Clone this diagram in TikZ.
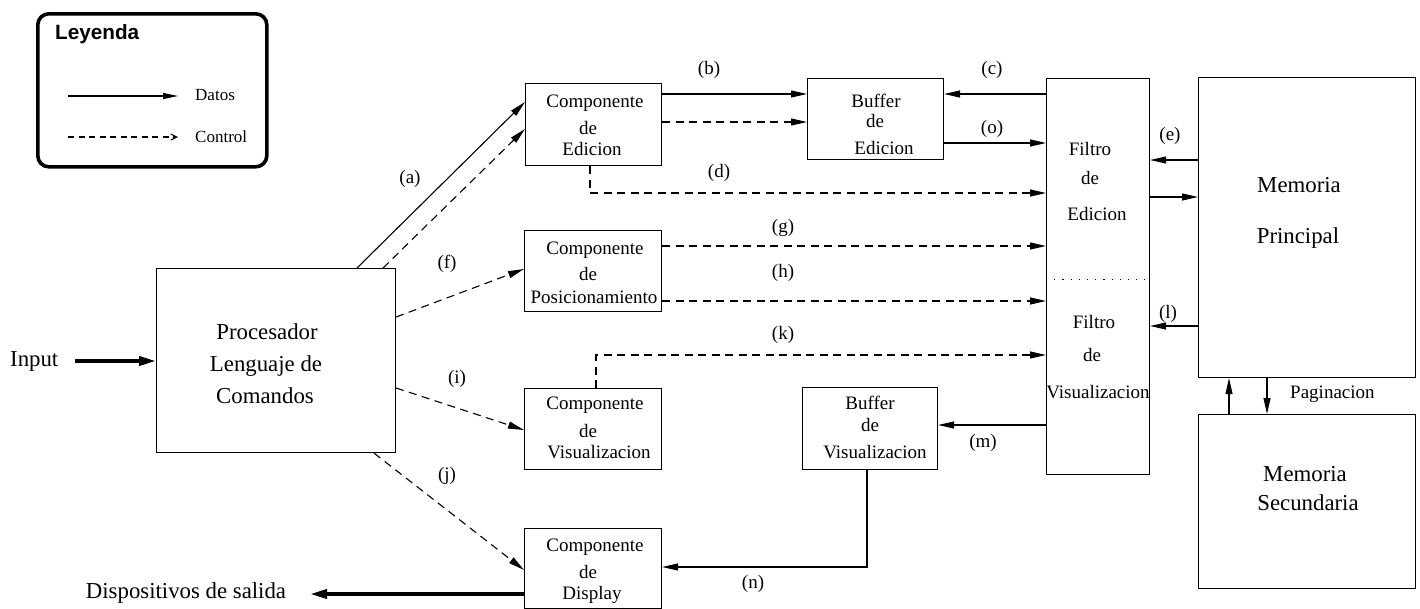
\documentclass[tikz,border=0pt]{standalone}
\usepackage{fontspec}
\setmainfont{Liberation Serif}
\newfontfamily\legfont{Liberation Sans}
\usetikzlibrary{arrows.meta}

\begin{document}
\begin{tikzpicture}[x=1pt,y=-1pt,
  box/.style={draw, line width=1.1pt, inner sep=0pt, anchor=north west},
  txt/.style={inner sep=0pt, anchor=base, font=\fontsize{19}{22}\selectfont},
  bigtxt/.style={inner sep=0pt, anchor=base, font=\fontsize{22.8}{26}\selectfont},
  lbl/.style={inner sep=0pt, anchor=base, font=\fontsize{19}{22}\selectfont},
  data/.style={line width=1.1pt, -{Triangle[length=16pt,width=7pt]}},
  ctrl/.style={line width=1.1pt, dash pattern=on 8pt off 5.5pt, -{Triangle[length=16pt,width=7pt]}},
  ctrlline/.style={line width=1.1pt, dash pattern=on 8pt off 5.5pt},
  io/.style={line width=3.6pt, -{Triangle[length=17pt,width=9pt]}},
]
\useasboundingbox (0,0) rectangle (1420,608);

% ---------- legend ----------
\node[box, line width=3.6pt, rounded corners=11pt, minimum width=229pt, minimum height=153pt] (leg) at (36,12) {};
\node[inner sep=0pt, anchor=base west, font=\legfont\bfseries\fontsize{20.7}{24}\selectfont] (legt) at (55,39) {Leyenda};
\coordinate (ld1) at (68,96);
\coordinate (ld2) at (178,96);
\coordinate (lc1) at (68,137);
\coordinate (lc2) at (178,137);
\draw[line width=1.1pt, -{Triangle[length=15pt,width=6pt]}] (ld1) -- (ld2);
\draw[line width=1.1pt, dash pattern=on 6pt off 4.5pt, -{Straight Barb[length=6pt,width=6pt]}] (lc1) -- (lc2);
\node[inner sep=0pt, anchor=base west, font=\fontsize{17}{20}\selectfont] (ldt) at (195,100) {Datos};
\node[inner sep=0pt, anchor=base west, font=\fontsize{17}{20}\selectfont] (lct) at (195,142) {Control};

% ---------- boxes ----------
\node[box, minimum width=239pt, minimum height=184pt] (pl) at (156,268) {};
\node[box, minimum width=136pt, minimum height=82pt] (ce) at (525,83) {};
\node[box, minimum width=137pt, minimum height=81pt] (cp) at (524,230) {};
\node[box, minimum width=137pt, minimum height=81pt] (cv) at (524,388) {};
\node[box, minimum width=137pt, minimum height=80pt] (cd) at (524,528) {};
\node[box, minimum width=136pt, minimum height=81pt] (be) at (807,78) {};
\node[box, minimum width=135pt, minimum height=82pt] (bv) at (802,387) {};
\node[box, minimum width=103pt, minimum height=396pt] (fil) at (1046,78) {};
\node[box, minimum width=217pt, minimum height=300pt] (mp) at (1198,77) {};
\node[box, minimum width=217pt, minimum height=174pt] (ms) at (1198,414) {};

% box texts
\node[bigtxt] (plt1) at (267,339) {Procesador};
\node[bigtxt] (plt2) at (266,371) {Lenguaje de};
\node[bigtxt] (plt3) at (265,403) {Comandos};

\node[txt] (cet1) at (595,107) {Componente};
\node[txt] (cet2) at (588,134) {de};
\node[txt] (cet3) at (592,155) {Edicion};

\node[txt] (cpt1) at (595,254) {Componente};
\node[txt] (cpt2) at (588,280) {de};
\node[txt] (cpt3) at (594,303) {Posicionamiento};

\node[txt] (cvt1) at (595,409) {Componente};
\node[txt] (cvt2) at (588,437) {de};
\node[txt] (cvt3) at (599,458) {Visualizacion};

\node[txt] (cdt1) at (595,551) {Componente};
\node[txt] (cdt2) at (588,578) {de};
\node[txt] (cdt3) at (592,599) {Display};

\node[txt] (bet1) at (876,107) {Buffer};
\node[txt] (bet2) at (875,127) {de};
\node[txt] (bet3) at (884,154) {Edicion};

\node[txt] (bvt1) at (870,409) {Buffer};
\node[txt] (bvt2) at (870,431) {de};
\node[txt] (bvt3) at (875,458) {Visualizacion};

\node[txt] (fet1) at (1090,155) {Filtro};
\node[txt] (fet2) at (1090,184) {de};
\node[txt] (fet3) at (1097,220) {Edicion};

\node[txt] (fvt1) at (1094,328) {Filtro};
\node[txt] (fvt2) at (1092,361) {de};
\node[txt] (fvt3) at (1098,398) {Visualizacion};

\node[bigtxt] (mpt1) at (1299,192) {Memoria};
\node[bigtxt] (mpt2) at (1298,243) {Principal};

\node[bigtxt] (mst1) at (1305,481) {Memoria};
\node[bigtxt] (mst2) at (1308,510) {Secundaria};

% filter split
\draw[line width=1pt, dash pattern=on 1.2pt off 7pt] (fil.west |- 0,279) -- (1145,279);

% ---------- input / output ----------
\node[bigtxt, anchor=base west] (inp) at (10,366) {Input};
\coordinate (inS) at (75,361);
\draw[io] (inS) -- (pl.west |- inS);

\node[bigtxt] (outt) at (186,598) {Dispositivos de salida};
\coordinate (outE) at (310,594);
\draw[io] (cd.west |- outE) -- (outE);

% ---------- command processor outputs ----------
\draw[data] (pl.north -| 357,0) -- (ce.west |- 0,102);
\draw[ctrl] (pl.north -| 383,0) -- (ce.west |- 0,129);
\node[lbl] (la) at (410,183) {(a)};

\draw[ctrl] (pl.east |- 0,317) -- (cp.west |- 0,269);
\node[lbl] (lf) at (447,268) {(f)};

\draw[ctrl] (pl.east |- 0,388) -- (cv.west |- 0,430);
\node[lbl] (li) at (457,383) {(i)};

\draw[ctrl] (pl.south -| 374,0) -- (cd.west |- 0,570);
\node[lbl] (lj) at (447,480) {(j)};

% ---------- edition path ----------
\draw[data] (ce.east |- 0,94) -- (be.west |- 0,94);
\draw[ctrl] (ce.east |- 0,122) -- (be.west |- 0,122);
\node[lbl] (lb) at (709,74) {(b)};

\draw[data] (fil.west |- 0,94) -- (be.east |- 0,94);
\node[lbl] (lc) at (992,74) {(c)};

\draw[data] (be.east |- 0,143) -- (fil.west |- 0,143);
\node[lbl] (lo) at (992,133) {(o)};

\draw[ctrl] (ce.south -| 590,0) |- (fil.west |- 0,193);
\node[lbl] (ld) at (719,177) {(d)};

\draw[ctrl] (cp.east |- 0,246) -- (fil.west |- 0,246);
\node[lbl] (lg) at (783,232) {(g)};

\draw[ctrl] (cp.east |- 0,301) -- (fil.west |- 0,301);
\node[lbl] (lh) at (783,277) {(h)};

\draw[ctrl] (cv.north -| 596,0) |- (fil.west |- 0,355);
\node[lbl] (lk) at (783,339) {(k)};

% ---------- visualization path ----------
\draw[data] (fil.west |- 0,425) -- (bv.east |- 0,425);
\node[lbl] (lm) at (983,447) {(m)};

\draw[data] (bv.south -| 867,0) |- (cd.east |- 0,567);
\node[lbl] (ln) at (753,588) {(n)};

% ---------- memory ----------
\draw[data] (mp.west |- 0,160) -- (fil.east |- 0,160);
\node[lbl] (le) at (1170,140) {(e)};
\draw[data] (fil.east |- 0,197) -- (mp.west |- 0,197);
\draw[data] (mp.west |- 0,326) -- (fil.east |- 0,326);
\node[lbl] (ll) at (1168,318) {(l)};

\draw[data] (ms.north -| 1229,0) -- (mp.south -| 1229,0);
\draw[data] (mp.south -| 1267,0) -- (ms.north -| 1267,0);
\node[lbl, anchor=base west] (pag) at (1290,398) {Paginacion};

\end{tikzpicture}
\end{document}
